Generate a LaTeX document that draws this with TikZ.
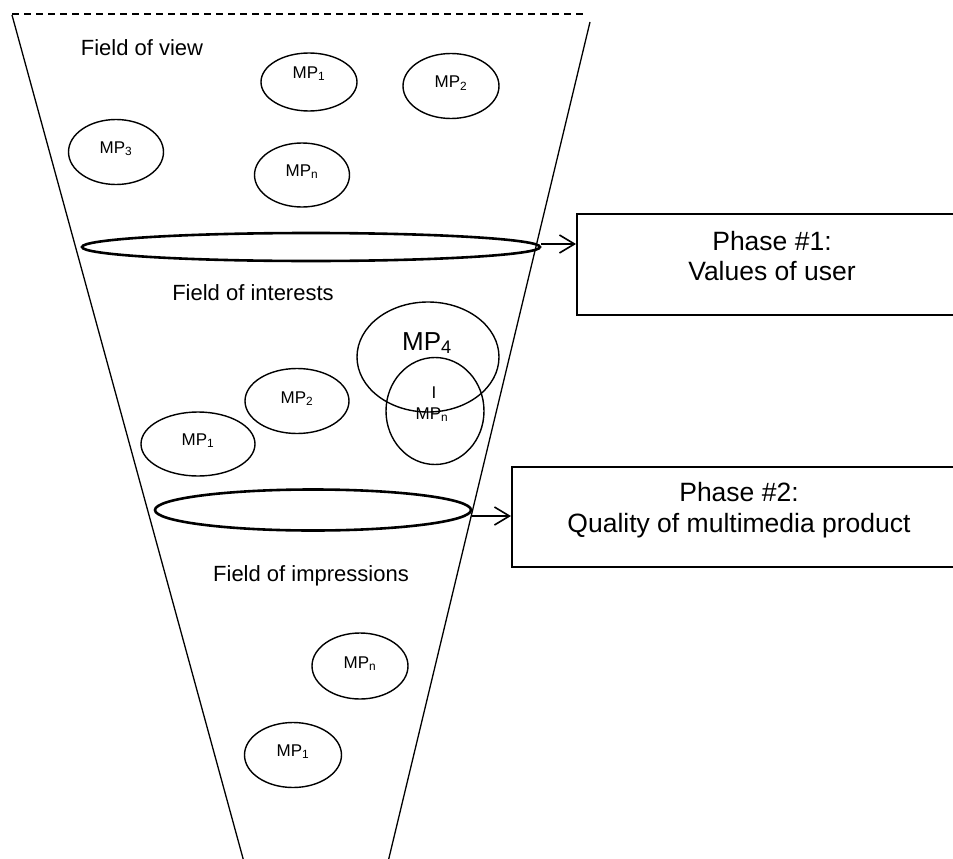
\documentclass[tikz,border=0pt]{standalone}
\usepackage{fontspec}
\setmainfont{Liberation Sans}
\usetikzlibrary{shapes.geometric,arrows.meta,calc}
\begin{document}
\begin{tikzpicture}[x=1pt,y=-1pt,
  mpe/.style={draw, ellipse, line width=1.4pt, inner sep=0pt},
  flat/.style={draw, ellipse, line width=2.6pt, inner sep=0pt},
  mpt/.style={anchor=base, inner sep=0pt, font=\fontsize{17}{20}\selectfont},
  bigt/.style={anchor=base, inner sep=0pt, font=\fontsize{26}{30}\selectfont},
  fieldt/.style={anchor=base, inner sep=0pt, font=\fontsize{22}{26}\selectfont},
  phbox/.style={draw, rectangle, line width=2pt, inner sep=0pt},
  pht/.style={anchor=base, inner sep=0pt, font=\fontsize{26.5}{30}\selectfont},
  funnel/.style={line width=1.3pt},
  arr/.style={line width=1.4pt, -{Straight Barb[length=15pt,width=18pt,line width=1.6pt]}}
]
\clip (0,0) rectangle (953,859);

% funnel
\coordinate (ltop) at (12,15);
\coordinate (lbot) at (244,862);
\coordinate (rtop) at (590,22);
\coordinate (rbot) at (388,862);
\coordinate (dl) at (12,14);
\coordinate (dr) at (586,14);
\draw[line width=1.2pt, dash pattern=on 7pt off 5pt] (dl) -- (dr);
\draw[funnel] (ltop) -- (lbot);
\draw[funnel] (rtop) -- (rbot);

% field of view
\node[fieldt] (fov) at (142,56) {Field of view};
\node[mpe, minimum width=96pt, minimum height=58pt] (v1) at (309,82) {};
\node[mpt] (v1t) at (309,78) {MP\textsubscript{1}};
\node[mpe, minimum width=96pt, minimum height=65pt] (v2) at (451,86) {};
\node[mpt] (v2t) at (451,88) {MP\textsubscript{2}};
\node[mpe, minimum width=95pt, minimum height=65pt] (v3) at (116,152) {};
\node[mpt] (v3t) at (116,153) {MP\textsubscript{3}};
\node[mpe, minimum width=95pt, minimum height=64pt] (vn) at (302,175) {};
\node[mpt] (vnt) at (302,176) {MP\textsubscript{n}};

% first filter
\node[flat, minimum width=458pt, minimum height=28pt] (e1) at (311,247) {};

% field of interests
\node[fieldt] (foi) at (253,300) {Field of interests};
\node[mpe, minimum width=142pt, minimum height=110pt] (i4) at (428,357) {};
\node[bigt] (i4t) at (427,350) {MP\textsubscript{4}};
\node[mpe, minimum width=98pt, minimum height=107pt] (in) at (435,411) {};
\node[mpt] (inI) at (434,398) {I};
\node[mpt] (int) at (432,419) {MP\textsubscript{n}};
\node[mpe, minimum width=104pt, minimum height=65pt] (i2) at (297,401) {};
\node[mpt] (i2t) at (297,403) {MP\textsubscript{2}};
\node[mpe, minimum width=114pt, minimum height=64pt] (i1) at (198,444) {};
\node[mpt] (i1t) at (198,445) {MP\textsubscript{1}};

% second filter
\node[flat, minimum width=316pt, minimum height=41pt] (e2) at (313,510) {};

% field of impressions
\node[fieldt] (fim) at (311,581) {Field of impressions};
\node[mpe, minimum width=96pt, minimum height=66pt] (mn) at (360,666) {};
\node[mpt] (mnt) at (360,668) {MP\textsubscript{n}};
\node[mpe, minimum width=97pt, minimum height=65pt] (m1) at (293,755) {};
\node[mpt] (m1t) at (293,756) {MP\textsubscript{1}};

% phase boxes
\node[phbox, minimum width=390pt, minimum height=101pt] (p1) at (772,264.5) {};
\node[pht] (p1a) at (772,250) {Phase \#1:};
\node[pht] (p1b) at (772,280) {Values of user};
\node[phbox, minimum width=454pt, minimum height=100pt] (p2) at (739,517) {};
\node[pht] (p2a) at (739,501) {Phase \#2:};
\node[pht] (p2b) at (739,532) {Quality of multimedia product};

% arrows
\coordinate (a1s) at ($(e1.east)+(0,-3)$);
\coordinate (a2s) at ($(e2.east)+(0,6)$);
\draw[arr] (a1s) -- (a1s -| p1.west);
\draw[arr] (a2s) -- (a2s -| p2.west);
\end{tikzpicture}
\end{document}
